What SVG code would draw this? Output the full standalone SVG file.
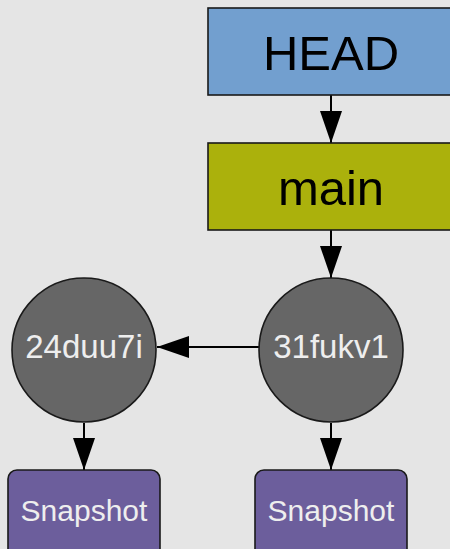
<svg xmlns="http://www.w3.org/2000/svg" width="450" height="549" viewBox="0 0 450 549">
  <defs>
    <marker id="arrow" viewBox="0 0 32 22" refX="32" refY="11" markerWidth="32" markerHeight="22" markerUnits="userSpaceOnUse" orient="auto">
      <path d="M0,0 L32,11 L0,22 z" fill="#000"/>
    </marker>
    <style>
      .ref { stroke: #1a1a1a; stroke-width: 1.6; }
      .lbl { font-family: "Liberation Sans", Arial, sans-serif; text-anchor: middle; }
      .edge { stroke: #000; stroke-width: 2; fill: none; marker-end: url(#arrow); }
    </style>
  </defs>
  <rect width="450" height="549" fill="#e5e5e5"/>

  <g id="connectors">
    <path class="edge" d="M331,95 V143"/>
    <path class="edge" d="M331,230 V278"/>
    <path class="edge" d="M259,347 H157"/>
    <path class="edge" d="M84,423 V470"/>
    <path class="edge" d="M331,423 V470"/>
  </g>

  <g id="head">
    <rect class="ref" x="208" y="8" width="246" height="87" fill="#729fcf"/>
    <text class="lbl" x="331" y="70" font-size="49" fill="#000">HEAD</text>
  </g>

  <g id="main">
    <rect class="ref" x="208" y="143" width="246" height="87" fill="#abb10c"/>
    <text class="lbl" x="331" y="205" font-size="49" fill="#000">main</text>
  </g>

  <g id="commit-24duu7i">
    <circle class="ref" cx="84" cy="350" r="72" fill="#666666"/>
    <text class="lbl" x="84" y="358" font-size="33" fill="#eeeeee">24duu7i</text>
  </g>

  <g id="commit-31fukv1">
    <circle class="ref" cx="331" cy="350" r="72" fill="#666666"/>
    <text class="lbl" x="331" y="358" font-size="33" fill="#eeeeee">31fukv1</text>
  </g>

  <g id="snapshot-1">
    <rect class="ref" x="8" y="470" width="152" height="90" rx="9" fill="#6c5e9c"/>
    <text class="lbl" x="84" y="521" font-size="30" fill="#eeeeee">Snapshot</text>
  </g>

  <g id="snapshot-2">
    <rect class="ref" x="255" y="470" width="152" height="90" rx="9" fill="#6c5e9c"/>
    <text class="lbl" x="331" y="521" font-size="30" fill="#eeeeee">Snapshot</text>
  </g>
</svg>
